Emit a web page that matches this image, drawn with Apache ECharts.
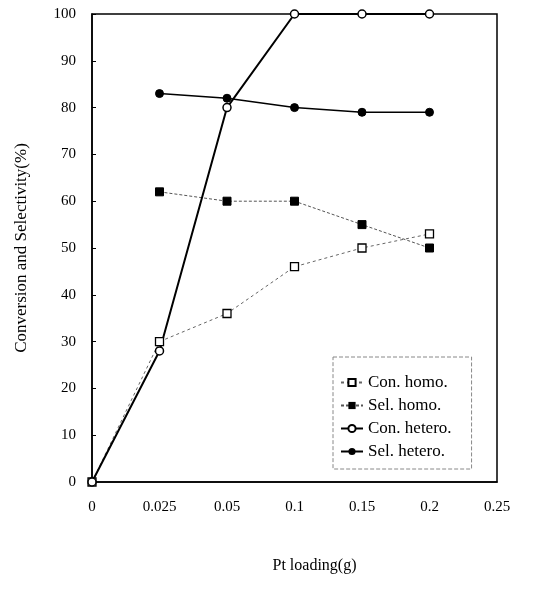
<!DOCTYPE html>
<html><head><meta charset="utf-8">
<script src="https://cdn.jsdelivr.net/npm/echarts@6/dist/echarts.min.js"></script>
<style>html,body{margin:0;padding:0;background:#fff}#c{width:542px;height:600px}</style>
</head><body><div id="c"></div>
<script>
var categories = ['0','0.025','0.05','0.1','0.15','0.2','0.25'];
var conHomo = [0, 30, 36, 46, 50, 53, null];
var selHomo = [null, 62, 60, 60, 55, 50, null];
var conHetero = [0, 28, 80, 100, 100, 100, null];
var selHetero = [null, 83, 82, 80, 79, 79, null];
var yTicks = {min: 0, max: 100, interval: 10};

var font = 'Liberation Serif';
var chart = echarts.init(document.getElementById('c'), null, {renderer: 'canvas'});
chart.setOption({
  animation: false,
  backgroundColor: '#fff',
  grid: {left: 92, right: 45, top: 14, bottom: 118, show: true, borderColor: '#000', borderWidth: 1.5, backgroundColor: 'transparent'},
  xAxis: {
    type: 'category', data: categories, boundaryGap: false,
    name: 'Pt loading(g)', nameLocation: 'middle', nameGap: 76,
    nameTextStyle: {fontFamily: font, fontSize: 16, color: '#000', padding: [0, 0, 0, 40]},
    axisLine: {lineStyle: {color: '#000', width: 1.5}},
    axisTick: {show: false},
    axisLabel: {fontFamily: font, fontSize: 15, color: '#000', margin: 18},
    splitLine: {show: false}
  },
  yAxis: {
    type: 'value', min: yTicks.min, max: yTicks.max, interval: yTicks.interval,
    name: 'Conversion and Selectivity(%)', nameLocation: 'middle', nameGap: 62,
    nameTextStyle: {fontFamily: font, fontSize: 17, color: '#000', padding: [0, 0, 0, 0]},
    axisLine: {show: true, lineStyle: {color: '#000', width: 1.5}},
    axisTick: {show: true, inside: true, length: 4, lineStyle: {color: '#000'}},
    axisLabel: {fontFamily: font, fontSize: 15, color: '#000', margin: 16},
    splitLine: {show: false}
  },
  legend: {
    orient: 'vertical', left: 333, top: 357,
    itemWidth: 22, itemHeight: 9, itemGap: 6,
    padding: [17, 20, 9, 7],
    borderColor: '#888', borderWidth: 1, borderType: 'dashed',
    textStyle: {fontFamily: font, fontSize: 17, color: '#000'},
    data: ['Con. homo.', 'Sel. homo.', 'Con. hetero.', 'Sel. hetero.']
  },
  series: [
    {name: 'Con. homo.', type: 'line', data: conHomo, symbol: 'rect', symbolSize: 8,
     itemStyle: {color: '#fff', borderColor: '#000', borderWidth: 1.3},
     lineStyle: {color: '#666', width: 1, type: [3, 3]}},
    {name: 'Sel. homo.', type: 'line', data: selHomo, symbol: 'rect', symbolSize: 8,
     itemStyle: {color: '#000', borderColor: '#000'},
     lineStyle: {color: '#555', width: 1, type: [3, 2]}},
    {name: 'Con. hetero.', type: 'line', data: conHetero, symbol: 'circle', symbolSize: 8,
     itemStyle: {color: '#fff', borderColor: '#000', borderWidth: 1.5},
     lineStyle: {color: '#000', width: 2}, z: 3},
    {name: 'Sel. hetero.', type: 'line', data: selHetero, symbol: 'circle', symbolSize: 8,
     itemStyle: {color: '#000', borderColor: '#000'},
     lineStyle: {color: '#000', width: 1.5}}
  ]
});
</script></body></html>
